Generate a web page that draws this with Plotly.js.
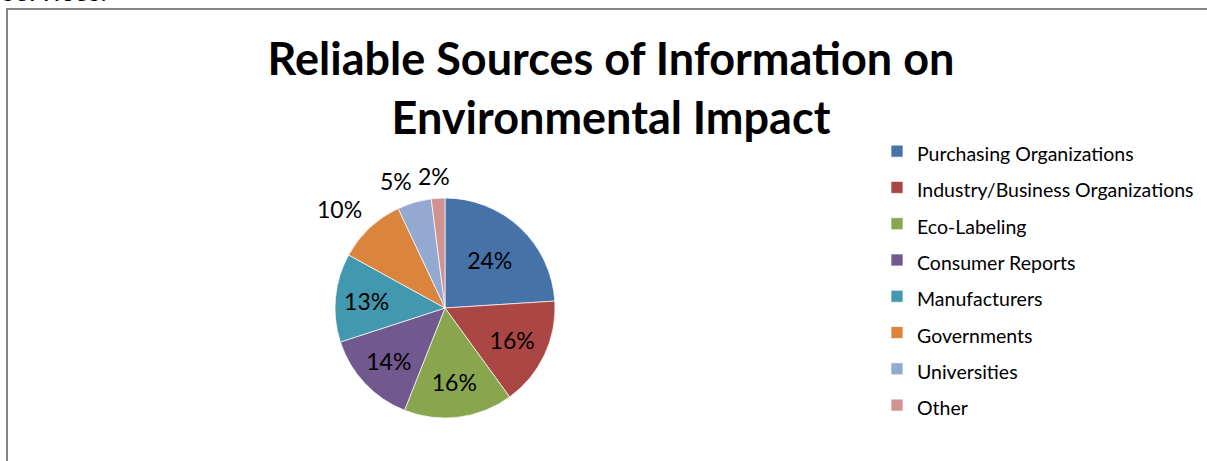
<!DOCTYPE html>
<html>
<head>
<meta charset="utf-8">
<script src="https://cdn.plot.ly/plotly-3.0.1.min.js"></script>
<style>html,body{margin:0;padding:0;background:#fff;}#chart{width:1207px;height:461px;}</style>
</head>
<body>
<div id="chart"></div>
<script>
var categories = ["Purchasing Organizations", "Industry/Business Organizations", "Eco-Labeling", "Consumer Reports", "Manufacturers", "Governments", "Universities", "Other"];
var shares = [24, 16, 16, 14, 13, 10, 5, 2];
var sliceColors = ["#4572A7", "#AA4643", "#89A54E", "#71588F", "#4198AF", "#DB843D", "#93A9CF", "#D19392"];
var labelPlacement = ["inside", "inside", "inside", "inside", "inside", "outside", "outside", "outside"];
var chartTitle = "Reliable Sources of Information on<br>Environmental Impact";

var W = 1207, H = 461;
var cx = 445, cy = 308, R = 110;
var FONT = "Lato, 'Open Sans', sans-serif";
var labelSize = 23;

var trace = {
  type: "pie",
  labels: categories.map(function(c){ return '<span style="font-size:19.5px">' + c + '</span>'; }),
  values: shares,
  sort: false,
  direction: "clockwise",
  rotation: 0,
  textinfo: "percent",
  texttemplate: "%{value}%",
  hoverinfo: "label+percent",
  textposition: labelPlacement.map(function(p){ return p === "inside" ? "inside" : "none"; }),
  insidetextorientation: "horizontal",
  textfont: {family: FONT, size: labelSize, color: "#000"},
  marker: {colors: sliceColors, line: {color: "rgba(255,255,255,0.7)", width: 1}},
  domain: {x: [(cx - R) / W, (cx + R) / W], y: [(H - cy - R) / H, (H - cy + R) / H]},
  automargin: false
};

// outside labels: anchored just beyond the rim along each slice's mid-angle (computed from the data)
var total = shares.reduce(function(a, b){ return a + b; }, 0);
var annotations = [];
var cum = 0;
shares.forEach(function(v, i){
  var mid = (cum + v / 2) / total;
  cum += v;
  if (labelPlacement[i] !== "outside") return;
  var txt = v + "%";
  var th = mid * 2 * Math.PI;
  var s = Math.sin(th), c = Math.cos(th);
  var rr = R + 13;
  var px = cx + rr * s;
  var py = cy - rr * c;
  var w = labelSize * (0.55 * String(v).length + 0.73);
  var h = labelSize * 0.72;
  var gx = Math.min(1, Math.abs(s) / 0.25) * (s < 0 ? -1 : 1);
  var gy = Math.min(1, Math.abs(c) / 0.25) * (c < 0 ? -1 : 1);
  px += gx * w / 2;
  py -= gy * h / 2 + 1;
  annotations.push({
    text: txt, xref: "paper", yref: "paper",
    x: px / W, y: 1 - py / H, xanchor: "center", yanchor: "middle",
    showarrow: false, font: {family: FONT, size: labelSize, color: "#000"}
  });
});
annotations.push({text: "services.", xref: "paper", yref: "paper", x: 0, xanchor: "left", y: 1 - 9 / H, yanchor: "bottom", showarrow: false,
  font: {family: FONT, size: 28, color: "#000"}});

var layout = {
  width: W, height: H,
  margin: {l: 0, r: 0, t: 0, b: 0},
  paper_bgcolor: "#fff",
  plot_bgcolor: "#fff",
  title: {
    text: chartTitle,
    font: {family: FONT, size: 45, color: "#000", weight: "bold"},
    xref: "container", yref: "container",
    x: 611 / W, xanchor: "center",
    y: 1 - 75 / H, yanchor: "top"
  },
  showlegend: true,
  legend: {
    x: 877 / W, xanchor: "left",
    y: 1 - 128 / H, yanchor: "top",
    font: {family: FONT, size: 25.6, color: "#000"},
    bgcolor: "rgba(0,0,0,0)",
    borderwidth: 0,
    itemclick: false
  },
  shapes: [
    {type: "line", xref: "paper", yref: "paper", x0: 7 / W, x1: 7 / W, y0: 0, y1: 1 - 8 / H, line: {color: "#868686", width: 2}},
    {type: "line", xref: "paper", yref: "paper", x0: 6 / W, x1: 1, y0: 1 - 9 / H, y1: 1 - 9 / H, line: {color: "#868686", width: 2}}
  ],
  annotations: annotations
};

Plotly.newPlot("chart", [trace], layout, {staticPlot: true, displayModeBar: false});
</script>
</body>
</html>
